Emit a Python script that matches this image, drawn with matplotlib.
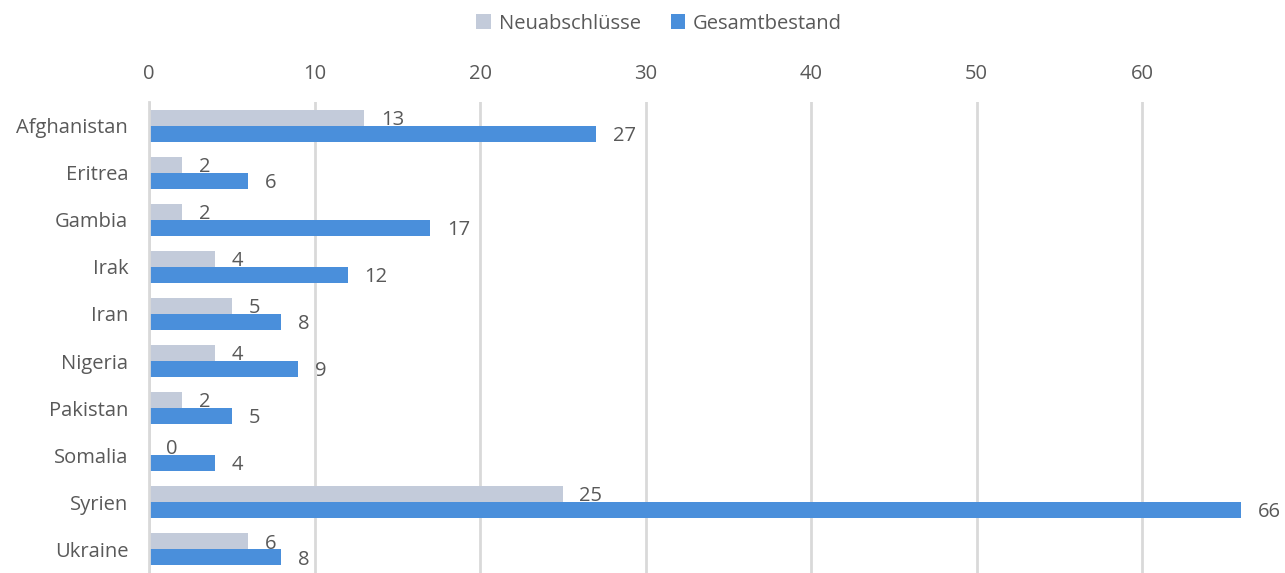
import numpy as np
import matplotlib.pyplot as plt

plt.rcParams['font.family'] = ['Open Sans', 'DejaVu Sans']

countries = ["Afghanistan", "Eritrea", "Gambia", "Irak", "Iran",
             "Nigeria", "Pakistan", "Somalia", "Syrien", "Ukraine"]
neuabschluesse = [13, 2, 2, 4, 5, 4, 2, 0, 25, 6]
gesamtbestand = [27, 6, 17, 12, 8, 9, 5, 4, 66, 8]

c_neu = "#C3CBDA"
c_ges = "#4A8FDB"
text_c = "#595959"
grid_c = "#D9D9D9"
fs = 14.5

fig = plt.figure(figsize=(12.85, 5.73), dpi=100)
ax = fig.add_axes([0.116, 0.0, 0.85, 0.822])

y = np.arange(len(countries))
h = 0.34
b1 = ax.barh(y - h / 2, neuabschluesse, height=h, color=c_neu, label="Neuabschlüsse", zorder=2)
b2 = ax.barh(y + h / 2, gesamtbestand, height=h, color=c_ges, label="Gesamtbestand", zorder=2)

# value labels just right of each bar end
for yy, v in zip(y, neuabschluesse):
    ax.annotate(str(v), (v, yy - h / 2), xytext=(12, -1.5), textcoords="offset points",
                ha="left", va="center", fontsize=fs, color=text_c)
for yy, v in zip(y, gesamtbestand):
    ax.annotate(str(v), (v, yy + h / 2), xytext=(12, -1.5), textcoords="offset points",
                ha="left", va="center", fontsize=fs, color=text_c)

ax.set_xlim(0, 66)
ax.set_ylim(len(countries) - 0.5, -0.5)
ax.set_xticks(range(0, 70, 10))
ax.xaxis.tick_top()
ax.set_yticks(y)
ax.set_yticklabels(countries)
ax.tick_params(axis="both", length=0, labelsize=fs, labelcolor=text_c)
ax.tick_params(axis="x", pad=13)
ax.tick_params(axis="y", pad=15)
ax.grid(axis="x", color=grid_c, linewidth=2, zorder=0)
for s in ["top", "right", "bottom"]:
    ax.spines[s].set_visible(False)
ax.spines["left"].set_color(grid_c)
ax.spines["left"].set_linewidth(2)

fig.legend(handles=[b1, b2], loc="upper center", bbox_to_anchor=(0.513, 1.008),
           ncol=2, frameon=False, fontsize=fs, handlelength=0.7, handleheight=0.7,
           columnspacing=1.5, handletextpad=0.4, labelcolor=text_c)

fig.savefig("out.png", dpi=100)
